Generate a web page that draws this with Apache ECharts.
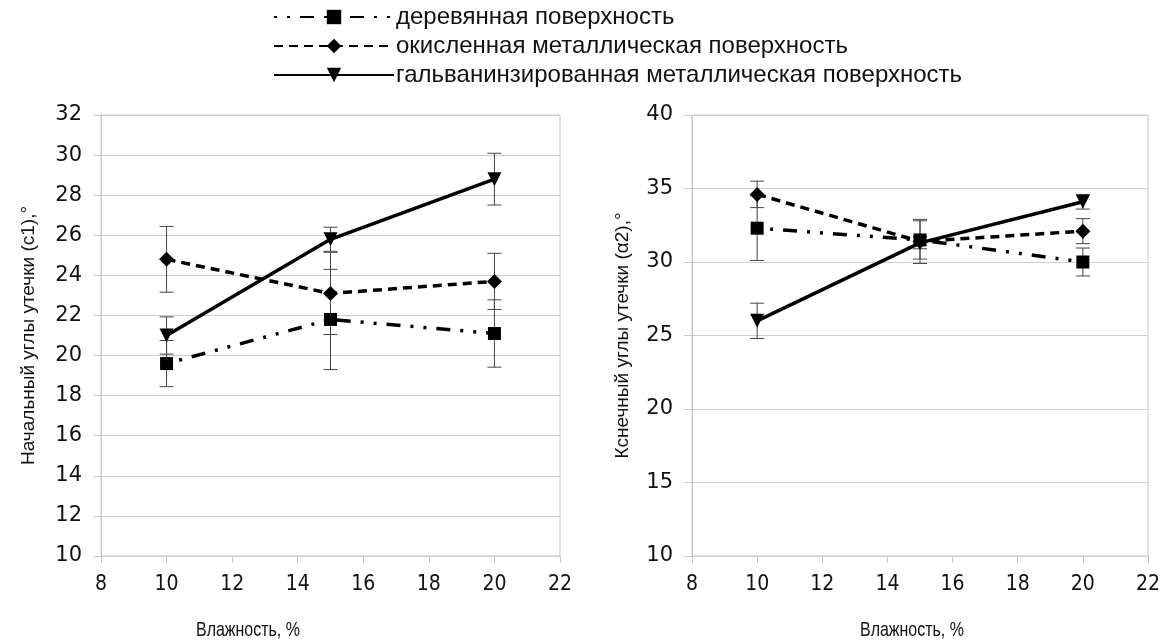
<!DOCTYPE html>
<html>
<head>
<meta charset="utf-8">
<script src="https://cdn.jsdelivr.net/npm/echarts@6/dist/echarts.min.js"></script>
<style>
html,body{margin:0;padding:0;background:#fff;}
#chart{width:1167px;height:642px;}
</style>
</head>
<body>
<div id="chart"></div>
<script>
// ---- data ----
var humidity = [10, 15, 20];
var seriesNames = ['деревянная поверхность', 'окисленная металлическая поверхность', 'гальванинзированная металлическая поверхность'];

// left chart: initial leakage angle (c1)
var wood1 = [19.6, 21.8, 21.1];
var wood1Err = [1.15, 2.5, 1.68];
var oxid1 = [24.8, 23.1, 23.7];
var oxid1Err = [1.64, 2.05, 1.4];
var galv1 = [21.0, 25.8, 28.8];
var galv1Err = [0.93, 0.6, 1.29];

// right chart: final leakage angle (α2)
var wood2 = [32.3, 31.5, 30.0];
var wood2Err = [2.2, 1.3, 0.95];
var oxid2 = [34.6, 31.4, 32.1];
var oxid2Err = [0.9, 1.5, 0.85];
var galv2 = [26.0, 31.3, 34.1];
var galv2Err = [1.2, 0.4, 0.5];

var xTicks = [8, 10, 12, 14, 16, 18, 20, 22];
var yLeftTicks = [10, 12, 14, 16, 18, 20, 22, 24, 26, 28, 30, 32];
var yRightTicks = [10, 15, 20, 25, 30, 35, 40];

var yNameLeft = 'Начальный углы утечки (с1),°';
var yNameRight = 'Кснечный углы утечки (α2),°';
var xName = 'Влажность, %';

// ---- helpers ----
function pts(vals) { return humidity.map(function (h, i) { return [h, vals[i]]; }); }
function errPts(vals, errs) { return humidity.map(function (h, i) { return [h, vals[i] - errs[i], vals[i] + errs[i]]; }); }

var FONT = "'Liberation Sans', Arial, sans-serif";
var NUMFONT = "'DejaVu Sans', 'Liberation Sans', sans-serif";
var NARROW = "'DejaVu Sans Condensed', 'Liberation Sans Narrow', 'Liberation Sans', sans-serif";
var styles = [
  { symbol: 'rect', symbolSize: 13, symbolRotate: 0, lineType: [3, 10, 3, 10, 14, 10] },
  { symbol: 'diamond', symbolSize: 15, symbolRotate: 0, lineType: [9, 6] },
  { symbol: 'triangle', symbolSize: 14, symbolRotate: 180, lineType: 'solid' }
];

function lineSeries(idx, data, axisIdx) {
  var s = styles[idx];
  return {
    type: 'line',
    name: seriesNames[idx],
    xAxisIndex: axisIdx, yAxisIndex: axisIdx,
    data: pts(data),
    symbol: s.symbol, symbolSize: s.symbolSize, symbolRotate: s.symbolRotate,
    showAllSymbol: true,
    lineStyle: { color: '#000', width: 3.5, type: s.lineType },
    itemStyle: { color: '#000' },
    z: 3,
    animation: false
  };
}

function errSeries(vals, errs, axisIdx) {
  return {
    type: 'custom',
    xAxisIndex: axisIdx, yAxisIndex: axisIdx,
    data: errPts(vals, errs),
    z: 2,
    silent: true,
    animation: false,
    renderItem: function (params, api) {
      var lo = api.coord([api.value(0), api.value(1)]);
      var hi = api.coord([api.value(0), api.value(2)]);
      var w = 7;
      var st = { stroke: '#444', lineWidth: 1 };
      return {
        type: 'group',
        children: [
          { type: 'line', shape: { x1: lo[0], y1: lo[1], x2: hi[0], y2: hi[1] }, style: st },
          { type: 'line', shape: { x1: lo[0] - w, y1: lo[1], x2: lo[0] + w, y2: lo[1] }, style: st },
          { type: 'line', shape: { x1: hi[0] - w, y1: hi[1], x2: hi[0] + w, y2: hi[1] }, style: st }
        ]
      };
    },
    encode: { x: 0, y: [1, 2] }
  };
}

function xAxis(gridIndex) {
  return {
    type: 'value', gridIndex: gridIndex,
    min: xTicks[0], max: xTicks[xTicks.length - 1], interval: 2,
    axisLine: { show: false },
    axisTick: { show: true, length: 7, lineStyle: { color: '#c8c8c8' } },
    splitLine: { show: false },
    axisLabel: { fontSize: 21, color: '#111', margin: 18, fontFamily: NARROW }
  };
}

function yAxis(gridIndex, ticks, interval, name, gap) {
  return {
    type: 'value', gridIndex: gridIndex,
    min: ticks[0], max: ticks[ticks.length - 1], interval: interval,
    name: name, nameLocation: 'middle', nameGap: gap, nameRotate: 90,
    nameTextStyle: { fontSize: 19, color: '#111', fontFamily: FONT },
    axisLine: { show: true, lineStyle: { color: '#c8c8c8' } },
    axisTick: { show: true, length: 8, lineStyle: { color: '#c8c8c8' } },
    splitLine: { show: true, lineStyle: { color: '#cfcfcf', width: 1 } },
    axisLabel: { fontSize: 21, color: '#111', margin: 19, fontFamily: NUMFONT }
  };
}

var chart = echarts.init(document.getElementById('chart'), null, { renderer: 'canvas' });
chart.setOption({
  backgroundColor: '#fff',
  animation: false,
  textStyle: { fontFamily: FONT },
  legend: {
    data: seriesNames,
    orient: 'vertical',
    left: 268, top: 0,
    itemWidth: 120, itemHeight: 18, itemGap: 5,
    textStyle: { fontSize: 24, color: '#111', fontFamily: FONT, padding: [0, 0, 0, -3] },
    selectedMode: false
  },
  grid: [
    { left: 101, right: 607, top: 115, bottom: 86, show: true, borderColor: '#c8c8c8', borderWidth: 1 },
    { left: 692, right: 19, top: 115, bottom: 86, show: true, borderColor: '#c8c8c8', borderWidth: 1 }
  ],
  xAxis: [xAxis(0), xAxis(1)],
  yAxis: [yAxis(0, yLeftTicks, 2, yNameLeft, 63), yAxis(1, yRightTicks, 5, yNameRight, 60)],
  graphic: [
    { type: 'text', left: 196, top: 620, scaleX: 0.76, style: { text: xName, fontSize: 21, fill: '#111', fontFamily: FONT } },
    { type: 'text', left: 860, top: 620, scaleX: 0.76, style: { text: xName, fontSize: 21, fill: '#111', fontFamily: FONT } }
  ],
  series: [
    errSeries(wood1, wood1Err, 0), errSeries(oxid1, oxid1Err, 0), errSeries(galv1, galv1Err, 0),
    errSeries(wood2, wood2Err, 1), errSeries(oxid2, oxid2Err, 1), errSeries(galv2, galv2Err, 1),
    lineSeries(0, wood1, 0), lineSeries(1, oxid1, 0), lineSeries(2, galv1, 0),
    lineSeries(0, wood2, 1), lineSeries(1, oxid2, 1), lineSeries(2, galv2, 1)
  ]
});
</script>
</body>
</html>
